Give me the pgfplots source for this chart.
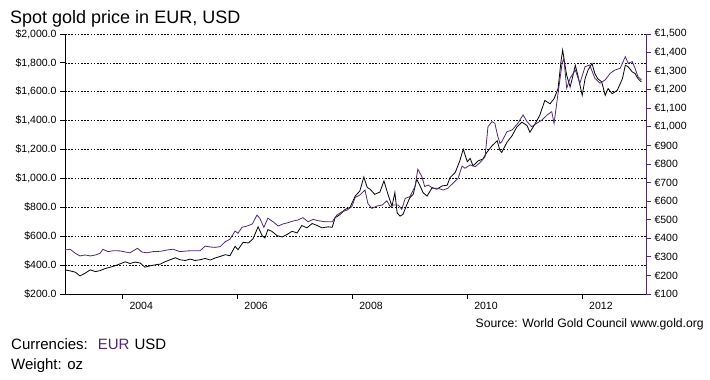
\documentclass[border=0pt]{standalone}
\usepackage{pgfplots}
\pgfplotsset{compat=1.18}
\usepackage{fontspec}
\setmainfont{Liberation Sans}
\definecolor{eurc}{RGB}{78,42,112}

\begin{document}
\begin{tikzpicture}
\useasboundingbox (-65pt,-86pt) rectangle (645pt,294pt);
\begin{axis}[
  at={(0,0)}, anchor=south west, scale only axis,
  width=581pt, height=260pt,
  xmin=2003, xmax=2013.11, ymin=200, ymax=2000,
  axis x line*=bottom, axis y line*=left,
  axis line style={black, line width=0.8pt},
  tick align=outside, major tick length=5pt,
  tick style={black, line width=0.8pt},
  xtick={2004,2006,2008,2010,2012},
  xticklabels={2004,2006,2008,2010,2012},
  xticklabel style={font=\fontsize{10.5}{12}\selectfont, anchor=north west, xshift=3.5pt},
  ytick={200,400,600,800,1000,1200,1400,1600,1800,2000},
  yticklabels={{\$200.0},{\$400.0},{\$600.0},{\$800.0},{\$1,000.0},{\$1,200.0},{\$1,400.0},{\$1,600.0},{\$1,800.0},{\$2,000.0}},
  yticklabel style={font=\fontsize{10.5}{12}\selectfont},
  ymajorgrids,
  grid style={black, line width=0.6pt, dash pattern=on 1.6pt off 1.6pt},
  minor tick num=0,
]
\addplot[black, line width=0.8pt] coordinates {
(2003.00,367) (2003.09,360) (2003.18,351) (2003.26,325) (2003.35,344) (2003.44,367)
(2003.53,355) (2003.61,362) (2003.70,376) (2003.79,386) (2003.87,395) (2003.96,409)
(2004.05,423) (2004.13,411) (2004.22,421) (2004.31,414) (2004.39,386) (2004.48,395)
(2004.57,402) (2004.66,407) (2004.74,423) (2004.83,437) (2004.92,451) (2005.00,437)
(2005.09,432) (2005.18,442) (2005.26,432) (2005.35,437) (2005.44,446) (2005.53,435)
(2005.61,449) (2005.70,460) (2005.79,472) (2005.87,465) (2005.96,530) (2006.01,507)
(2006.10,558) (2006.19,553) (2006.27,581) (2006.36,665) (2006.43,604) (2006.48,588)
(2006.53,646) (2006.60,634) (2006.69,604) (2006.78,595) (2006.86,611) (2006.95,634)
(2007.04,623) (2007.12,674) (2007.21,658) (2007.30,688) (2007.39,674) (2007.47,658)
(2007.58,665) (2007.65,662) (2007.70,728) (2007.79,751) (2007.87,785) (2007.96,800)
(2008.05,878) (2008.13,913) (2008.20,1010) (2008.26,937) (2008.31,925) (2008.39,890)
(2008.48,906) (2008.55,983) (2008.62,890) (2008.69,808) (2008.74,902) (2008.78,762)
(2008.83,739) (2008.88,751) (2008.95,820) (2009.00,867) (2009.06,890) (2009.12,994)
(2009.18,948) (2009.23,902) (2009.30,878) (2009.39,937) (2009.47,925) (2009.56,948)
(2009.65,953) (2009.70,1006) (2009.79,1041) (2009.87,1122) (2009.93,1203) (2010.00,1115)
(2010.05,1139) (2010.10,1087) (2010.19,1122) (2010.27,1134) (2010.34,1180) (2010.43,1226)
(2010.52,1261) (2010.57,1192) (2010.60,1180) (2010.69,1250) (2010.78,1296) (2010.86,1355)
(2010.95,1390) (2011.04,1366) (2011.09,1320) (2011.18,1378) (2011.26,1436) (2011.35,1540)
(2011.44,1517) (2011.51,1552) (2011.58,1622) (2011.63,1808) (2011.66,1889) (2011.70,1784)
(2011.73,1714) (2011.79,1633) (2011.84,1714) (2011.88,1784) (2011.93,1703) (2012.00,1575)
(2012.05,1691) (2012.10,1749) (2012.17,1796) (2012.22,1726) (2012.27,1691) (2012.34,1668)
(2012.40,1575) (2012.45,1622) (2012.52,1587) (2012.57,1599) (2012.61,1610) (2012.70,1691)
(2012.75,1784) (2012.80,1773) (2012.87,1738) (2012.92,1726) (2012.97,1691) (2013.03,1668)
};
\end{axis}
\begin{axis}[
  at={(0,0)}, anchor=south west, scale only axis,
  width=581pt, height=260pt,
  xmin=2003, xmax=2013.11, ymin=100, ymax=1500,
  axis x line=none, axis y line*=right,
  axis line style={eurc, line width=0.8pt},
  tick align=outside, major tick length=5pt,
  tick style={eurc, line width=0.8pt},
  ytick={100,200,300,400,500,600,700,800,900,1000,1100,1200,1300,1400,1500},
  yticklabels={{€100},{€200},{€300},{€400},{€500},{€600},{€700},{€800},{€900},{€1,000},{€1,100},{€1,200},{€1,300},{€1,400},{€1,500}},
  yticklabel style={font=\fontsize{10.5}{12}\selectfont, black},
]
\addplot[eurc, line width=0.8pt] coordinates {
(2003.00,337) (2003.09,341) (2003.18,319) (2003.26,305) (2003.35,310) (2003.44,305)
(2003.53,310) (2003.61,319) (2003.66,341) (2003.75,328) (2003.84,333) (2003.96,332)
(2004.05,326) (2004.13,322) (2004.26,346) (2004.34,326) (2004.43,322) (2004.53,328)
(2004.66,330) (2004.78,337) (2004.88,341) (2005.00,328) (2005.13,332) (2005.23,333)
(2005.35,333) (2005.44,358) (2005.53,353) (2005.61,351) (2005.70,355) (2005.79,382)
(2005.87,395) (2005.96,439) (2006.01,427) (2006.08,459) (2006.17,466) (2006.26,477)
(2006.34,525) (2006.39,508) (2006.46,459) (2006.53,508) (2006.62,489) (2006.71,466)
(2006.79,477) (2006.88,484) (2006.97,493) (2007.05,498) (2007.14,511) (2007.23,489)
(2007.32,502) (2007.40,495) (2007.53,489) (2007.65,489) (2007.73,525) (2007.82,543)
(2007.91,552) (2007.99,570) (2008.05,620) (2008.13,633) (2008.22,660) (2008.27,588)
(2008.34,561) (2008.43,574) (2008.52,579) (2008.60,602) (2008.66,570) (2008.71,579)
(2008.80,579) (2008.86,556) (2008.92,615) (2009.00,624) (2009.09,678) (2009.14,772)
(2009.21,732) (2009.26,678) (2009.32,687) (2009.40,669) (2009.49,669) (2009.58,660)
(2009.66,669) (2009.75,696) (2009.84,723) (2009.91,789) (2009.96,777) (2010.05,795)
(2010.14,786) (2010.22,807) (2010.31,839) (2010.36,1001) (2010.43,1028) (2010.48,1019)
(2010.53,950) (2010.57,911) (2010.60,920) (2010.69,974) (2010.78,983) (2010.88,1019)
(2010.97,1064) (2011.04,1028) (2011.12,1001) (2011.21,1019) (2011.30,1037) (2011.39,1064)
(2011.47,1082) (2011.51,1019) (2011.58,1181) (2011.65,1342) (2011.68,1369) (2011.73,1208)
(2011.79,1262) (2011.88,1306) (2011.96,1235) (2012.05,1324) (2012.13,1333) (2012.22,1262)
(2012.31,1235) (2012.40,1253) (2012.49,1289) (2012.57,1306) (2012.66,1315) (2012.75,1378)
(2012.80,1342) (2012.87,1351) (2012.92,1315) (2012.97,1270) (2013.03,1253)
};
\end{axis}
\node[anchor=base west, inner sep=0, font=\fontsize{18}{21}\selectfont] at (-55pt,270.7pt) {Spot gold price in EUR, USD};
\node[anchor=base east, inner sep=0, font=\fontsize{12.2}{14}\selectfont] at (639pt,-33.5pt) {Source: World Gold Council www.gold.org};
\node[anchor=base west, inner sep=0, font=\fontsize{15}{18}\selectfont] at (-54pt,-56pt) {Currencies:\hspace{10pt}{\color{eurc}EUR}\hspace{5pt}USD};
\node[anchor=base west, inner sep=0, font=\fontsize{15}{18}\selectfont] at (-54pt,-75pt) {Weight: oz};
\end{tikzpicture}
\end{document}
